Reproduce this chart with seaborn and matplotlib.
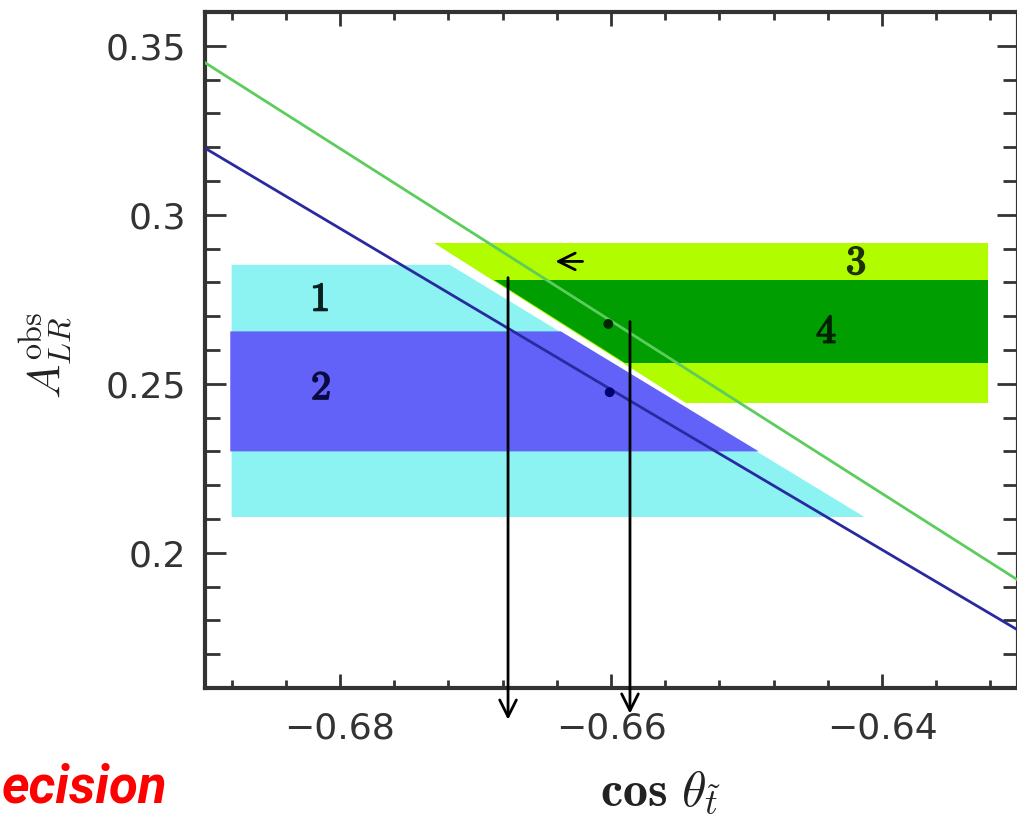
import numpy as np
import matplotlib
matplotlib.use('Agg')
import matplotlib.pyplot as plt
import matplotlib.patheffects as pe
import seaborn as sns
import pandas as pd
from matplotlib.ticker import MultipleLocator

# theory lines (cos theta vs A_LR)
line_x = [-0.69, -0.66, -0.63]
blue_line_y = [0.3198, 0.2483, 0.1772]
green_line_y = [0.3451, 0.2686, 0.1920]

# allowed regions (corner points)
region1_x = [-0.6880, -0.6719, -0.6413, -0.6880]
region1_y = [0.2852, 0.2852, 0.2106, 0.2106]
region2_x = [-0.6881, -0.6637, -0.6491, -0.6881]
region2_y = [0.2655, 0.2655, 0.2300, 0.2300]
region3_x = [-0.6731, -0.6322, -0.6322, -0.6545]
region3_y = [0.2918, 0.2918, 0.2443, 0.2443]
region4_x = [-0.6686, -0.6322, -0.6322, -0.6590]
region4_y = [0.2806, 0.2806, 0.2561, 0.2561]

region_labels = ['1', '2', '3', '4']
label_x = [-0.6815, -0.6814, -0.6419, -0.6441]
label_y = [0.2749, 0.2487, 0.2858, 0.2654]

# central points
dot_x = [-0.6602, -0.6601]
dot_y = [0.2677, 0.2475]

# arrows added on the slide
down_arrow_x = [-0.6676, -0.6586]
down_arrow_y0 = [0.2814, 0.2684]
down_arrow_y1 = [0.1506, 0.1524]
left_arrow_x = [-0.6621, -0.6641]
left_arrow_y = 0.2862

sns.set_style('ticks')
plt.rcParams['font.family'] = ['DejaVu Sans']
plt.rcParams['mathtext.fontset'] = 'cm'

fig = plt.figure(figsize=(10.17, 8.16), dpi=100)
ax = fig.add_axes([0.2011, 0.1569, 0.7994, 0.8284])

ax.fill(region1_x, region1_y, color='#8cf2f2', lw=0, zorder=1)
ax.fill(region2_x, region2_y, color='#6262f8', lw=0, zorder=2)
ax.fill(region3_x, region3_y, color='#b2fc00', lw=0, zorder=1)
ax.fill(region4_x, region4_y, color='#009e00', lw=0, zorder=2)

lines = pd.DataFrame({'x': line_x, 'blue': blue_line_y, 'green': green_line_y})
sns.lineplot(data=lines, x='x', y='blue', color='#2a2aa0', lw=2, ax=ax, zorder=3)
sns.lineplot(data=lines, x='x', y='green', color='#5ccc5c', lw=2, ax=ax, zorder=3)

sns.scatterplot(x=dot_x, y=dot_y, color=['#002800', '#000070'], s=50, ax=ax,
                zorder=4, edgecolor='none')

label_colors = ['#0a2020', '#0a0a40', '#203000', '#002000']
for t, x, y, c in zip(region_labels, label_x, label_y, label_colors):
    ax.text(x, y, r'$\mathbf{%s}$' % t, fontsize=29, color=c,
            ha='center', va='center', zorder=5,
            path_effects=[pe.withStroke(linewidth=1.2, foreground=c)])

for x, y0, y1 in zip(down_arrow_x, down_arrow_y0, down_arrow_y1):
    ax.annotate('', xy=(x, y1), xytext=(x, y0),
                arrowprops=dict(arrowstyle='->', lw=2, color='black',
                                mutation_scale=30, shrinkA=0, shrinkB=0),
                annotation_clip=False, zorder=6)
ax.annotate('', xy=(left_arrow_x[1], left_arrow_y), xytext=(left_arrow_x[0], left_arrow_y),
            arrowprops=dict(arrowstyle='->', lw=2, color='black',
                            mutation_scale=30, shrinkA=0, shrinkB=0),
            zorder=6)

ax.set_xlim(-0.69, -0.63)
ax.set_ylim(0.16, 0.36)
ax.xaxis.set_major_locator(MultipleLocator(0.02))
ax.xaxis.set_minor_locator(MultipleLocator(0.004))
ax.yaxis.set_major_locator(MultipleLocator(0.05))
ax.yaxis.set_minor_locator(MultipleLocator(0.01))
ax.set_xticks([-0.68, -0.66, -0.64])
ax.set_xticklabels(['\u22120.68', '\u22120.66', '\u22120.64'])
ax.set_yticks([0.2, 0.25, 0.3, 0.35])
ax.set_yticklabels(['0.2', '0.25', '0.3', '0.35'])

ax.tick_params(axis='both', which='both', direction='in', top=True, right=True,
               colors='#333333', width=2)
ax.tick_params(axis='x', which='major', length=10, pad=17, labelsize=26)
ax.tick_params(axis='x', which='minor', length=6)
ax.tick_params(axis='y', which='major', length=15, pad=13, labelsize=26)
ax.tick_params(axis='y', which='minor', length=11)
for sp in ax.spines.values():
    sp.set_linewidth(3)
    sp.set_color('#333333')

ax.set_xlabel(r'$\mathbf{cos}\ \theta_{\tilde{t}}$', fontsize=36, color='#222222')
ax.set_ylabel(r'$A_{LR}^{\rm obs}$', fontsize=33, color='#222222')
ax.xaxis.set_label_coords((660 - 204.5) / 812.5, (688 - 792) / 676)
ax.xaxis.label.set_va('center')
ax.yaxis.set_label_coords((46 - 204.5) / 812.5, (688 - 355) / 676)
ax.yaxis.label.set_va('center')

fig.text(0.002, 0.016, 'ecision', fontsize=38, color='#ff0000', fontweight='bold',
         fontstyle='italic', family=['Roboto', 'Liberation Sans'],
         ha='left', va='baseline')

fig.savefig('out.png', dpi=100, facecolor='white')
